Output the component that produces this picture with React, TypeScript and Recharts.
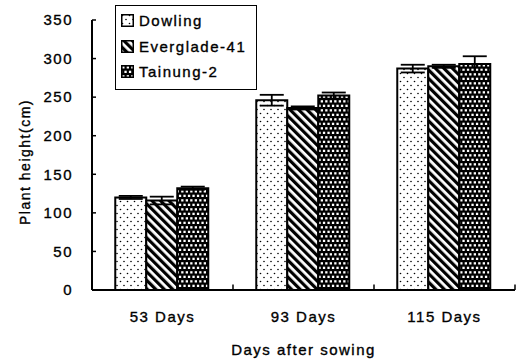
import React from 'react';
import { BarChart, Bar, XAxis, YAxis, ErrorBar, Legend, ReferenceLine } from 'recharts';

const categories = ['53 Days', '93 Days', '115 Days'];
const dowling = [120, 246, 287];
const dowlingErr = [2, 7, 5];
const everglade = [116, 236, 290];
const evergladeErr = [5, 2, 2];
const tainung = [132, 252, 293];
const tainungErr = [2, 4, 10];
const yTicks = [0, 50, 100, 150, 200, 250, 300, 350];

const seriesNames = ['Dowling', 'Everglade-41', 'Tainung-2'];
const seriesKeys = ['dowling', 'everglade', 'tainung'];
const patternIds = ['pDots', 'pStripes', 'pChecks'];

const data = categories.map((c, i) => ({
  cat: c,
  dowling: dowling[i],
  dowlingErr: dowlingErr[i],
  everglade: everglade[i],
  evergladeErr: evergladeErr[i],
  tainung: tainung[i],
  tainungErr: tainungErr[i],
}));

const FONT = "'Liberation Sans', Arial, sans-serif";
const TEXT_STYLE = { fill: '#000', fontFamily: FONT, fontSize: 15, letterSpacing: 1.5, stroke: '#000', strokeWidth: 0.35 };

function Patterns({ suffix = '' }: { suffix?: string }) {
  return (
    <defs>
      <pattern id={'pDots' + suffix} width="7" height="8" patternUnits="userSpaceOnUse">
        <rect width="7" height="8" fill="#fff" />
        <circle cx="1.5" cy="1.5" r="0.8" fill="#000" />
        <circle cx="5" cy="5.5" r="0.8" fill="#000" />
      </pattern>
      <pattern id={'pStripes' + suffix} width="6" height="6" patternUnits="userSpaceOnUse" patternTransform="rotate(-45)">
        <rect width="6" height="6" fill="#fff" />
        <rect width="3.2" height="6" fill="#000" />
      </pattern>
      <pattern id={'pChecks' + suffix} width="9" height="9" patternUnits="userSpaceOnUse">
        <rect width="9" height="9" fill="#000" />
        <rect x="1.2" y="1.2" width="2.3" height="2.3" fill="#fff" />
        <rect x="5.7" y="1.2" width="2.3" height="2.3" fill="#fff" />
        <rect x="3.4" y="5.7" width="2.3" height="2.3" fill="#fff" />
        <rect x="7.9" y="5.7" width="2.3" height="2.3" fill="#fff" />
        <rect x="-1.1" y="5.7" width="2.3" height="2.3" fill="#fff" />
      </pattern>
    </defs>
  );
}

function LegendBox() {
  return (
    <div
      style={{
        boxSizing: 'border-box',
        width: 142,
        height: 85,
        border: '1.5px solid #000',
        background: '#fff',
        paddingTop: 2,
        paddingLeft: 5,
        fontFamily: FONT,
        fontSize: 15,
        letterSpacing: 1.5,
        color: '#000',
        WebkitTextStroke: '0.35px #000',
      }}
    >
      {seriesNames.map((n, i) => (
        <div key={n} style={{ height: 25.5, display: 'flex', alignItems: 'center' }}>
          <svg width="13" height="13" style={{ marginRight: 5, flexShrink: 0 }}>
            <Patterns suffix={'L' + i} />
            <rect x="0.75" y="0.75" width="11.5" height="11.5" fill={`url(#${patternIds[i]}L${i})`} stroke="#000" strokeWidth="1.5" />
          </svg>
          <span>{n}</span>
        </div>
      ))}
    </div>
  );
}

const YLabel = (props: any) => {
  const vb = props.viewBox || { x: 0, y: 20, width: 92, height: 270 };
  const cx = vb.x + 30;
  const cy = vb.y + vb.height / 2 + 7;
  return (
    <text
      x={cx}
      y={cy}
      textAnchor="middle"
      transform={`rotate(-90, ${cx}, ${cy})`}
      fontFamily={FONT}
      fontSize={14}
      letterSpacing={1.5}
      fill="#000"
      stroke="#000"
      strokeWidth={0.35}
    >
      Plant height(cm)
    </text>
  );
};

export default function App() {
  return (
    <div style={{ position: 'absolute', left: 0, top: 0, background: '#fff' }}>
      <BarChart
        width={527}
        height={360}
        data={data}
        margin={{ top: 20, right: 12, left: 0, bottom: 0 }}
        barCategoryGap="16.5%"
        barGap={0}
      >
        <Patterns />
        <XAxis
          dataKey="cat"
          height={70}
          tickLine={false}
          axisLine={{ stroke: '#000', strokeWidth: 2 }}
          tickMargin={15}
          tick={TEXT_STYLE}
          label={{
            value: 'Days after sowing',
            position: 'insideBottom',
            offset: 5,
            ...TEXT_STYLE,
          }}
        />
        <YAxis
          width={92}
          domain={[0, 350]}
          ticks={yTicks}
          interval={0}
          tickSize={-4}
          tickMargin={23}
          tickLine={{ stroke: '#000', strokeWidth: 1.5 }}
          axisLine={{ stroke: '#000', strokeWidth: 2 }}
          tick={TEXT_STYLE}
          label={<YLabel />}
        />
        <Legend
          layout="vertical"
          align="center"
          verticalAlign="middle"
          wrapperStyle={{ left: 115, top: 5, width: 142, height: 85 }}
          content={() => <LegendBox />}
        />
        {seriesKeys.map((k, i) => (
          <Bar
            key={k}
            dataKey={k}
            name={seriesNames[i]}
            fill={`url(#${patternIds[i]})`}
            stroke="#000"
            strokeWidth={2}
            isAnimationActive={false}
          >
            <ErrorBar dataKey={k + 'Err'} width={12} stroke="#000" strokeWidth={1.8} />
          </Bar>
        ))}
        {categories.map((c) => (
          <ReferenceLine
            key={c}
            segment={[{ x: c, y: 0 }, { x: c, y: 7 }]}
            position="end"
            stroke="#000"
            strokeWidth={1.5}
            ifOverflow="visible"
          />
        ))}
      </BarChart>
    </div>
  );
}
